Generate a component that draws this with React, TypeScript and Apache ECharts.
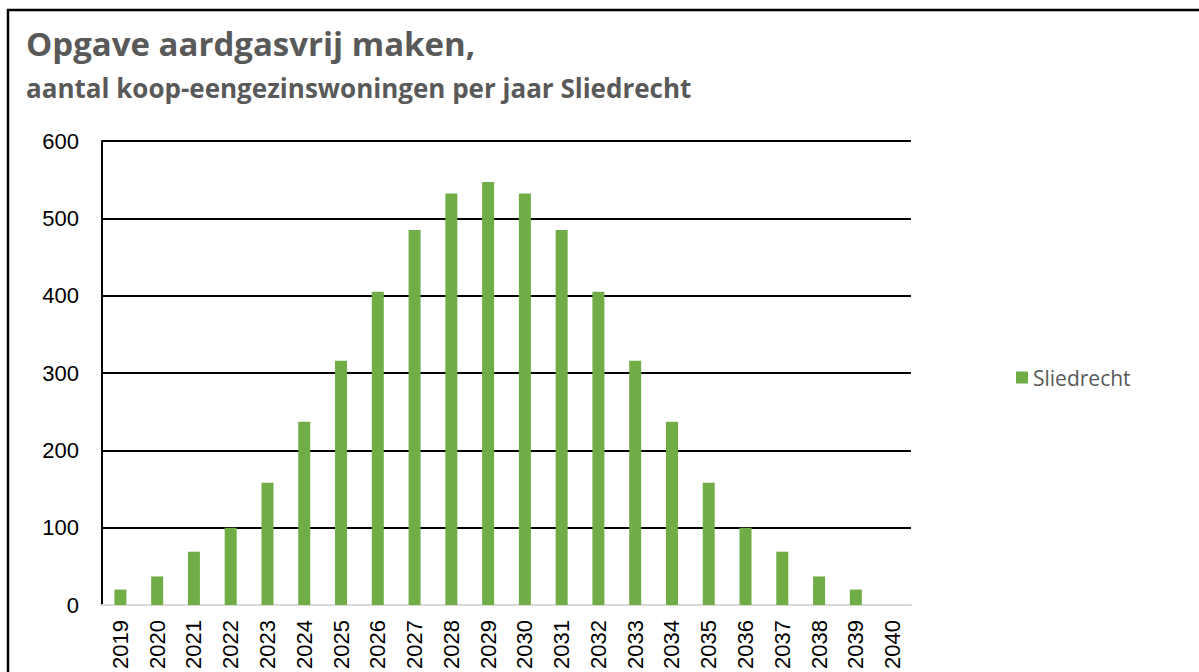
import React, { useEffect, useRef } from "react";
import * as echarts from "echarts";

const titleText = "Opgave aardgasvrij maken,";
const subtitleText = "aantal koop-eengezinswoningen per jaar Sliedrecht";
const seriesName = "Sliedrecht";
const years = [
  "2019", "2020", "2021", "2022", "2023", "2024", "2025", "2026", "2027", "2028", "2029",
  "2030", "2031", "2032", "2033", "2034", "2035", "2036", "2037", "2038", "2039", "2040",
];
const values = [20, 37, 69, 100, 158, 237, 316, 405, 485, 532, 547, 532, 485, 405, 316, 237, 158, 100, 69, 37, 20, 0];
const yMin = 0;
const yMax = 600;
const yInterval = 100;

export default function App() {
  const ref = useRef<HTMLDivElement>(null);
  useEffect(() => {
    if (!ref.current) return;
    const chart = echarts.init(ref.current, null, { renderer: "svg" });
    chart.setOption({
      animation: false,
      backgroundColor: "#ffffff",
      graphic: [
        {
          type: "rect",
          shape: { x: 8, y: 10, width: 1400, height: 900 },
          style: { fill: "none", stroke: "#000", lineWidth: 2.5 },
          silent: true,
        },
        {
          type: "text",
          x: 26,
          y: 43,
          style: {
            text: titleText,
            font: "bold 33px 'Open Sans'",
            fill: "#595959",
            verticalAlign: "middle",
          },
        },
        {
          type: "text",
          x: 26,
          y: 88,
          style: {
            text: subtitleText,
            font: "bold 26px 'Open Sans'",
            fill: "#595959",
            verticalAlign: "middle",
          },
        },
      ],
      legend: {
        left: 1016,
        top: 367,
        padding: 0,
        icon: "rect",
        itemWidth: 12,
        itemHeight: 12,
        itemGap: 6,
        textStyle: { fontFamily: "Open Sans", fontSize: 21, color: "#595959" },
        data: [seriesName],
      },
      grid: { left: 102, right: 288, top: 141, bottom: 66, containLabel: false },
      xAxis: {
        type: "category",
        data: years,
        axisLine: { show: true, lineStyle: { color: "#d9d9d9", width: 2 } },
        axisTick: { show: false },
        axisLabel: {
          rotate: 90,
          margin: 15,
          fontFamily: "Liberation Sans",
          fontSize: 22,
          color: "#000",
          interval: 0,
        },
      },
      yAxis: {
        type: "value",
        min: yMin,
        max: yMax,
        interval: yInterval,
        axisLine: { show: true, lineStyle: { color: "#000", width: 2 } },
        axisTick: { show: false },
        splitLine: { show: true, lineStyle: { color: "#000", width: 2 } },
        axisLabel: {
          margin: 23,
          fontFamily: "Liberation Sans",
          fontSize: 22,
          color: "#000",
        },
      },
      series: [
        {
          name: seriesName,
          type: "bar",
          data: values,
          barWidth: 12,
          itemStyle: { color: "#70AD47" },
        },
      ],
    });
    return () => chart.dispose();
  }, []);
  return (
    <div
      ref={ref}
      style={{ position: "fixed", left: 0, top: 0, width: 1199, height: 672, background: "#fff" }}
    />
  );
}
